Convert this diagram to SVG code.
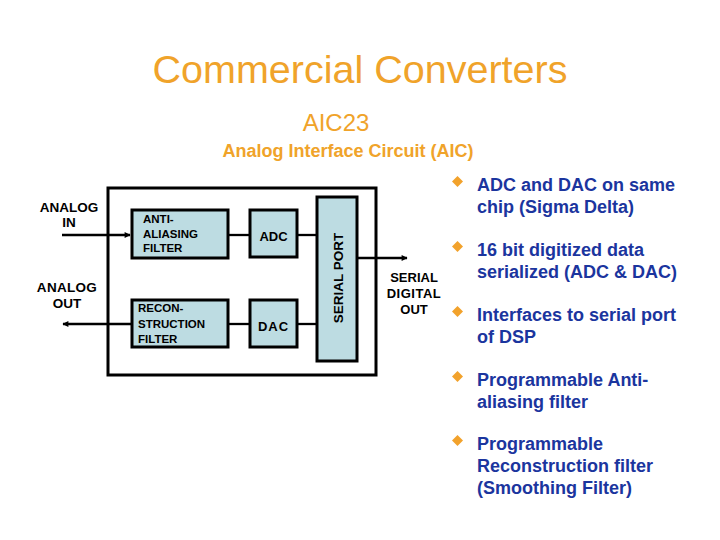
<svg xmlns="http://www.w3.org/2000/svg" width="720" height="540" viewBox="0 0 720 540">
<style>
.t{font-family:"Liberation Sans",Arial,sans-serif;}
.title{font-size:39.5px;fill:#F0A32A;}
.sub{font-size:24px;fill:#F0A32A;}
.sub2{font-size:18px;font-weight:bold;fill:#F0A32A;}
.bl{font-size:18px;font-weight:bold;fill:#1B359E;}
.lab{font-size:13.5px;font-weight:bold;fill:#000;}
.sm{font-size:11.5px;font-weight:bold;fill:#000;}
.blk{fill:#BDDCE2;stroke:#000;stroke-width:3;}
.wire{fill:none;stroke:#000;stroke-width:2.3;}
.dia{fill:#F2A22C;}
</style>
<defs>
<marker id="ah" viewBox="0 0 10 10" refX="9" refY="5" markerWidth="8" markerHeight="6" markerUnits="userSpaceOnUse" orient="auto">
<path d="M0,0 L10,5 L0,10 Z" fill="#000"/>
</marker>
</defs>
<rect width="720" height="540" fill="#fff"/>
<g id="titles">
<text class="t title" x="360" y="83" text-anchor="middle">Commercial Converters</text>
<text class="t sub" x="336" y="131" text-anchor="middle">AIC23</text>
<text class="t sub2" x="348" y="157" text-anchor="middle">Analog Interface Circuit (AIC)</text>
</g>
<g id="chip">
<rect x="108" y="188" width="268" height="187" fill="#fff" stroke="#000" stroke-width="3"/>
</g>
<g id="connectors">
<line class="wire" x1="62" y1="235" x2="130" y2="235" marker-end="url(#ah)"/>
<line class="wire" x1="228" y1="235" x2="250" y2="235"/>
<line class="wire" x1="297" y1="235" x2="317" y2="235"/>
<line class="wire" x1="228" y1="324" x2="250" y2="324"/>
<line class="wire" x1="297" y1="324" x2="317" y2="324"/>
<line class="wire" x1="132" y1="324" x2="63" y2="324" marker-end="url(#ah)"/>
<line class="wire" x1="357" y1="258" x2="407" y2="258" marker-end="url(#ah)"/>
</g>
<g id="antialias">
<rect class="blk" x="132" y="210" width="96" height="48"/>
<text class="t sm" x="143" y="223">ANTI-</text>
<text class="t sm" x="143" y="238">ALIASING</text>
<text class="t sm" x="143" y="252">FILTER</text>
</g>
<g id="adc">
<rect class="blk" x="250" y="210" width="47" height="47"/>
<text class="t lab" x="273.5" y="241" text-anchor="middle" style="font-size:13px">ADC</text>
</g>
<g id="recon">
<rect class="blk" x="132" y="300" width="96" height="47"/>
<text class="t sm" x="138" y="312">RECON-</text>
<text class="t sm" x="138" y="328">STRUCTION</text>
<text class="t sm" x="138" y="343">FILTER</text>
</g>
<g id="dac">
<rect class="blk" x="250" y="300" width="47" height="47"/>
<text class="t lab" x="273.5" y="331" text-anchor="middle" style="font-size:13px;letter-spacing:1px">DAC</text>
</g>
<g id="serialport">
<rect class="blk" x="317" y="197" width="40" height="164"/>
<text class="t lab" transform="translate(343,278) rotate(-90)" text-anchor="middle">SERIAL PORT</text>
</g>
<g id="io-labels">
<text class="t lab" x="69" y="212" text-anchor="middle">ANALOG</text>
<text class="t lab" x="69" y="227" text-anchor="middle">IN</text>
<text class="t lab" x="67" y="292" text-anchor="middle" style="letter-spacing:0.3px">ANALOG</text>
<text class="t lab" x="67" y="308" text-anchor="middle">OUT</text>
<text class="t lab" x="414" y="282" text-anchor="middle" style="font-size:13px">SERIAL</text>
<text class="t lab" x="414" y="298" text-anchor="middle" style="font-size:13px;letter-spacing:0.5px">DIGITAL</text>
<text class="t lab" x="414" y="314" text-anchor="middle" style="font-size:13px">OUT</text>
</g>
<g id="bullets">
<path class="dia" d="M457.5,176 L463,181.5 L457.5,187 L452,181.5 Z"/>
<text class="t bl" x="477" y="191">ADC and DAC on same</text>
<text class="t bl" x="477" y="213">chip (Sigma Delta)</text>
<path class="dia" d="M457.5,241 L463,246.5 L457.5,252 L452,246.5 Z"/>
<text class="t bl" x="477" y="256">16 bit digitized data</text>
<text class="t bl" x="477" y="278">serialized (ADC &amp; DAC)</text>
<path class="dia" d="M457.5,306 L463,311.5 L457.5,317 L452,311.5 Z"/>
<text class="t bl" x="477" y="321">Interfaces to serial port</text>
<text class="t bl" x="477" y="343">of DSP</text>
<path class="dia" d="M457.5,371 L463,376.5 L457.5,382 L452,376.5 Z"/>
<text class="t bl" x="477" y="386">Programmable Anti-</text>
<text class="t bl" x="477" y="408">aliasing filter</text>
<path class="dia" d="M457.5,435 L463,440.5 L457.5,446 L452,440.5 Z"/>
<text class="t bl" x="477" y="450">Programmable</text>
<text class="t bl" x="477" y="472">Reconstruction filter</text>
<text class="t bl" x="477" y="494">(Smoothing Filter)</text>
</g>
</svg>
